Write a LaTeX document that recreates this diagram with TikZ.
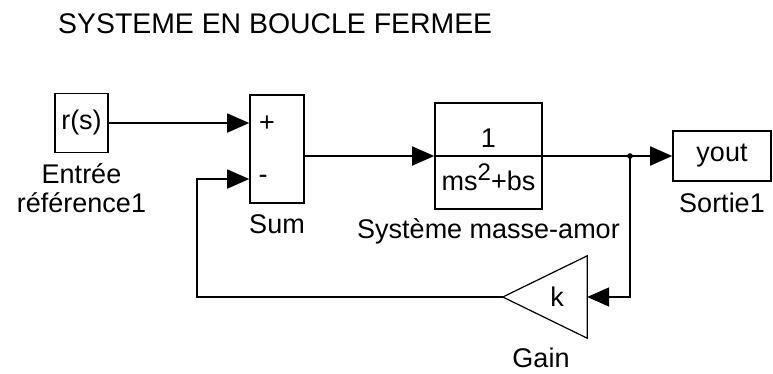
\documentclass[tikz,border=0pt]{standalone}
\usepackage{fontspec}
\setmainfont{Liberation Sans}
\usetikzlibrary{arrows.meta}
\begin{document}
\begin{tikzpicture}[x=1pt,y=-1pt,
  blk/.style={draw, line width=1.6pt, inner sep=0pt, font=\fontsize{27}{30}\selectfont},
  sig/.style={line width=1.8pt, -{Triangle[length=22pt,width=19pt]}},
  wire/.style={line width=1.8pt},
  lbl/.style={inner sep=0pt, anchor=base, font=\fontsize{27}{30}\selectfont},
  txt/.style={inner sep=0pt, font=\fontsize{27}{30}\selectfont}]
\useasboundingbox (0,0) rectangle (773,373);
\fill[white] (0,0) rectangle (773,373);
% title
\node[lbl, anchor=base west, font=\fontsize{28.4}{30}\selectfont] (title) at (58,33) {SYSTEME EN BOUCLE FERMEE};
% reference input
\node[blk, minimum width=53pt, minimum height=59pt] (ref) at (81.5,123) {r(s)};
\node[lbl] (refl1) at (81.5,183) {Entrée};
\node[lbl] (refl2) at (81.5,212) {référence1};
% sum
\node[blk, minimum width=54pt, minimum height=108pt] (sum) at (277,149) {};
\node[txt] (plus) at (267,124) {+};
\node[txt] (minus) at (263,179) {-};
\node[lbl] (suml) at (277,233) {Sum};
% transfer function
\node[blk, minimum width=107pt, minimum height=106pt] (tf) at (488.5,156) {};
\node[lbl] (num) at (488.5,147) {1};
\node[lbl] (den) at (488.5,190) {ms\raisebox{10pt}{\fontsize{24}{24}\selectfont 2}+bs};
\node[lbl] (tfl) at (488.5,238) {Système masse-amor};
% output
\node[blk, minimum width=98pt, minimum height=50pt] (yout) at (722,156) {yout};
\node[lbl] (youtl) at (722,212) {Sortie1};
% gain
\node[minimum width=84pt, minimum height=82pt, inner sep=0pt] (gain) at (545,297) {};
\draw[line width=1.2pt] (gain.north east) -- (gain.west) -- (gain.south east) -- cycle;
\node[txt] (k) at (557,297) {k};
\node[lbl] (gainl) at (541,367) {Gain};
% wiring
\coordinate (br) at (630,156);
\coordinate (fb) at (197,297);
\draw[sig] (ref.east) -- (sum.west |- ref.east);
\draw[sig] (sum.east |- tf.west) -- (tf.west);
\draw[wire] (tf.west) -- (tf.east);
\draw[wire] (tf.east) -- (br);
\draw[sig] (br) -- (yout.west);
\draw[sig] (br) |- (gain.east);
\draw[sig] (gain.west) -- (fb) |- (sum.west |- minus);
\fill (br) circle (2.8pt);
\end{tikzpicture}
\end{document}
